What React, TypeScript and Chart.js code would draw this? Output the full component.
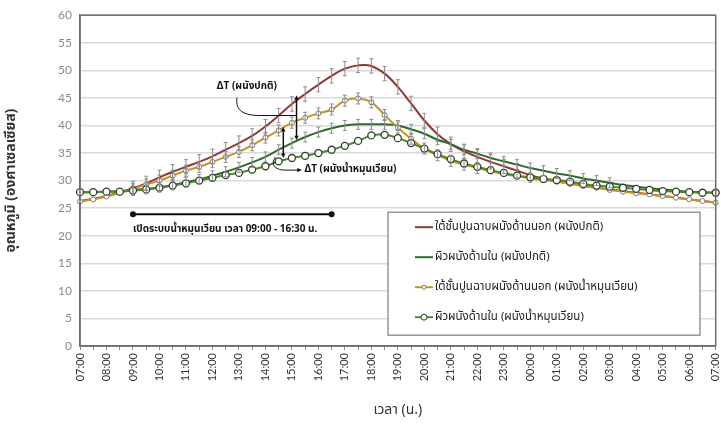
import React, { useEffect, useRef } from 'react';
import { Chart, registerables } from 'chart.js';
Chart.register(...registerables);

const TIME_LABELS = [
  '07:00','07:30','08:00','08:30','09:00','09:30','10:00','10:30','11:00','11:30',
  '12:00','12:30','13:00','13:30','14:00','14:30','15:00','15:30','16:00','16:30',
  '17:00','17:30','18:00','18:30','19:00','19:30','20:00','20:30','21:00','21:30',
  '22:00','22:30','23:00','23:30','00:00','00:30','01:00','01:30','02:00','02:30',
  '03:00','03:30','04:00','04:30','05:00','05:30','06:00','06:30','07:00',
];

const OUTER_NORMAL = [
  26.3, 26.7, 27.2, 27.9, 28.6, 29.5, 30.6, 31.6, 32.5, 33.4,
  34.4, 35.6, 36.8, 38.1, 39.8, 41.8, 43.9, 45.7, 47.4, 49.0,
  50.3, 50.9, 50.8, 49.4, 47.0, 44.0, 40.9, 38.4, 36.6, 35.3,
  34.3, 33.4, 32.6, 31.8, 31.0, 30.4, 29.9, 29.5, 29.1, 28.7,
  28.4, 28.1, 27.8, 27.5, 27.2, 26.9, 26.6, 26.3, 26.0,
];
const INNER_NORMAL = [
  27.9, 27.9, 28.0, 28.1, 28.3, 28.5, 28.8, 29.2, 29.7, 30.2,
  30.9, 31.6, 32.4, 33.3, 34.3, 35.6, 36.8, 37.9, 38.8, 39.5,
  40.0, 40.2, 40.2, 40.2, 40.0, 39.3, 38.5, 37.4, 36.6, 35.6,
  34.9, 34.1, 33.5, 32.9, 32.3, 31.8, 31.3, 30.9, 30.4, 30.0,
  29.6, 29.2, 28.9, 28.6, 28.4, 28.2, 28.0, 27.9, 27.8,
];
const OUTER_CIRC = [
  26.2, 26.6, 27.1, 27.8, 28.5, 29.3, 30.0, 30.9, 31.8, 32.5,
  33.4, 34.3, 35.2, 36.4, 37.8, 39.1, 40.5, 41.4, 42.2, 42.9,
  44.5, 44.9, 44.2, 41.9, 39.6, 37.6, 35.8, 34.6, 33.6, 32.9,
  32.3, 31.7, 31.2, 30.8, 30.4, 30.1, 29.8, 29.4, 29.0, 28.7,
  28.3, 28.0, 27.7, 27.5, 27.2, 26.9, 26.6, 26.3, 26.0,
];
const INNER_CIRC = [
  27.9, 27.9, 28.0, 28.0, 28.2, 28.4, 28.7, 29.1, 29.5, 30.0,
  30.5, 31.0, 31.4, 32.0, 32.6, 33.5, 34.1, 34.5, 35.0, 35.6,
  36.3, 37.2, 38.2, 38.3, 37.7, 36.8, 35.8, 34.8, 33.9, 33.1,
  32.5, 31.9, 31.4, 30.9, 30.6, 30.3, 30.1, 29.8, 29.4, 29.1,
  28.9, 28.7, 28.5, 28.3, 28.1, 28.0, 27.9, 27.8, 27.8,
];

const SERIES_LABELS = [
  'ใต้ชั้นปูนฉาบผนังด้านนอก (ผนังปกติ)',
  'ผิวผนังด้านใน (ผนังปกติ)',
  'ใต้ชั้นปูนฉาบผนังด้านนอก (ผนังน้ำหมุนเวียน)',
  'ผิวผนังด้านใน (ผนังน้ำหมุนเวียน)',
];
// error bar half-size per series and index range where bars are visible
const ERRORS = [1.3, 0.9, 1.0, 0];
const ERROR_FROM = [4, 4, 4, 0];
const ERROR_TO = [34, 40, 30, 0];

const Y_MIN = 0;
const Y_MAX = 60;
const Y_STEP = 5;
const Y_TITLE = 'อุณหภูมิ (องศาเซลเซียส)';
const X_TITLE = 'เวลา (น.)';

const CIRC_TEXT = 'เปิดระบบน้ำหมุนเวียน เวลา 09:00 - 16:30 น.';
const CIRC_START = 4; // 09:00 index
const CIRC_END = 19; // 16:30 index
const CIRC_LEVEL = 23.9;
const DT_NORMAL_TEXT = 'ΔT (ผนังปกติ)';
const DT_CIRC_TEXT = 'ΔT (ผนังน้ำหมุนเวียน)';

const THAI = "Tahoma, 'Noto Sans Thai', 'Noto Sans Thai UI', Loma, Garuda, 'Noto Sans', sans-serif";
const NUM = "Lato, 'Liberation Sans', sans-serif";

const COLORS = ['#933634', '#2f6a2f', '#c8961e', '#4e8a2c'];

function arrowHead(ctx: CanvasRenderingContext2D, x: number, y: number, ang: number, size = 5) {
  ctx.beginPath();
  ctx.moveTo(x, y);
  ctx.lineTo(x - size * Math.cos(ang - 0.45), y - size * Math.sin(ang - 0.45));
  ctx.lineTo(x - size * Math.cos(ang + 0.45), y - size * Math.sin(ang + 0.45));
  ctx.closePath();
  ctx.fill();
}

const framePlugin = {
  id: 'frame',
  afterDraw(chart: any) {
    const { ctx, chartArea: a } = chart;
    ctx.save();
    ctx.strokeStyle = '#6e6e6e';
    ctx.lineWidth = 1.5;
    ctx.strokeRect(a.left, a.top, a.right - a.left, a.bottom - a.top);
    ctx.restore();
  },
};

const errorBarPlugin = {
  id: 'errbars',
  afterDatasetsDraw(chart: any) {
    const { ctx } = chart;
    const ys = chart.scales.y;
    ctx.save();
    ctx.strokeStyle = '#8c8c8c';
    ctx.lineWidth = 1;
    chart.data.datasets.forEach((ds: any, di: number) => {
      const e = ERRORS[di];
      if (!e) return;
      const meta = chart.getDatasetMeta(di);
      meta.data.forEach((pt: any, i: number) => {
        if (i < ERROR_FROM[di] || i > ERROR_TO[di]) return;
        const v = ds.data[i];
        const yt = ys.getPixelForValue(v + e);
        const yb = ys.getPixelForValue(v - e);
        const x = pt.x;
        ctx.beginPath();
        ctx.moveTo(x, yt); ctx.lineTo(x, yb);
        ctx.moveTo(x - 2, yt); ctx.lineTo(x + 2, yt);
        ctx.moveTo(x - 2, yb); ctx.lineTo(x + 2, yb);
        ctx.stroke();
      });
    });
    ctx.restore();
  },
};

const annotationPlugin = {
  id: 'annot',
  afterDraw(chart: any) {
    const { ctx } = chart;
    const xs = chart.scales.x;
    const ys = chart.scales.y;
    const X = (v: number) => xs.getPixelForValue(v);
    const Y = (v: number) => ys.getPixelForValue(v);
    ctx.save();
    ctx.fillStyle = '#111';
    ctx.strokeStyle = '#111';

    // circulation period bar
    ctx.lineWidth = 2;
    ctx.beginPath();
    ctx.moveTo(X(CIRC_START), Y(CIRC_LEVEL));
    ctx.lineTo(X(CIRC_END), Y(CIRC_LEVEL));
    ctx.stroke();
    [CIRC_START, CIRC_END].forEach((i) => {
      ctx.beginPath();
      ctx.arc(X(i), Y(CIRC_LEVEL), 3, 0, Math.PI * 2);
      ctx.fill();
    });
    ctx.font = `bold 10px ${THAI}`;
    ctx.textBaseline = 'middle';
    ctx.textAlign = 'left';
    ctx.fillText(CIRC_TEXT, X(CIRC_START), Y(21.1));

    // ΔT normal wall
    ctx.lineWidth = 1.5;
    const ax1 = X(16.35);
    const t1 = Y(45.5), b1 = Y(37.3);
    ctx.beginPath(); ctx.moveTo(ax1, t1 + 4); ctx.lineTo(ax1, b1 - 4); ctx.stroke();
    arrowHead(ctx, ax1, t1, -Math.PI / 2);
    arrowHead(ctx, ax1, b1, Math.PI / 2);
    ctx.lineWidth = 1;
    ctx.beginPath();
    ctx.moveTo(X(11.85), Y(45.0));
    ctx.bezierCurveTo(X(11.7), Y(42.5), X(12.5), Y(41.8), X(13.6), Y(41.8));
    ctx.lineTo(ax1, Y(41.8));
    ctx.stroke();
    ctx.font = `bold 10px ${THAI}`;
    ctx.textAlign = 'center';
    ctx.fillText(DT_NORMAL_TEXT, X(12.6), Y(46.9));

    // ΔT circulating wall
    ctx.lineWidth = 1.5;
    const ax2 = X(15.35);
    const t2 = Y(39.7), b2 = Y(34.1);
    ctx.beginPath(); ctx.moveTo(ax2, t2 + 4); ctx.lineTo(ax2, b2 - 4); ctx.stroke();
    arrowHead(ctx, ax2, t2, -Math.PI / 2);
    arrowHead(ctx, ax2, b2, Math.PI / 2);
    ctx.lineWidth = 1;
    ctx.beginPath();
    ctx.moveTo(X(14.75), Y(34.3));
    ctx.bezierCurveTo(X(14.3), Y(32.6), X(14.9), Y(31.9), X(15.5), Y(31.9));
    ctx.lineTo(X(16.55), Y(31.9));
    ctx.stroke();
    arrowHead(ctx, X(16.75), Y(31.9), 0, 5);
    ctx.textAlign = 'left';
    ctx.fillText(DT_CIRC_TEXT, X(16.95), Y(31.9));

    // legend box
    const a = chart.chartArea;
    const lx = a.left + 308, ly = a.top + 197, lw = 312, lh = 123;
    ctx.fillStyle = '#ffffff';
    ctx.fillRect(lx, ly, lw, lh);
    ctx.strokeStyle = '#7f7f7f';
    ctx.lineWidth = 1.2;
    ctx.strokeRect(lx, ly, lw, lh);
    const rows = [15, 45, 75, 105];
    chart.data.datasets.forEach((ds: any, i: number) => {
      const yy = ly + rows[i];
      const x0 = lx + 27, x1 = lx + 45;
      ctx.strokeStyle = ds.borderColor;
      ctx.lineWidth = 2;
      ctx.beginPath(); ctx.moveTo(x0, yy); ctx.lineTo(x1, yy); ctx.stroke();
      if (ds.pointRadius > 0) {
        ctx.fillStyle = '#fff';
        ctx.strokeStyle = ds.pointBorderColor;
        ctx.lineWidth = 1;
        ctx.beginPath(); ctx.arc((x0 + x1) / 2, yy, ds.pointRadius - 0.5, 0, Math.PI * 2); ctx.fill(); ctx.stroke();
      }
      ctx.fillStyle = '#222';
      ctx.font = `11.5px ${THAI}`;
      ctx.textAlign = 'left';
      ctx.textBaseline = 'middle';
      ctx.fillText(ds.label, x1 + 2, yy);
    });
    ctx.restore();
  },
};

export default function App() {
  const ref = useRef<HTMLCanvasElement | null>(null);
  useEffect(() => {
    if (!ref.current) return;
    const chart = new Chart(ref.current, {
      type: 'line',
      data: {
        labels: TIME_LABELS,
        datasets: [
          {
            label: SERIES_LABELS[0], data: OUTER_NORMAL, borderColor: COLORS[0], backgroundColor: COLORS[0],
            borderWidth: 2, pointRadius: 0, tension: 0.4, order: 4,
          },
          {
            label: SERIES_LABELS[1], data: INNER_NORMAL, borderColor: COLORS[1], backgroundColor: COLORS[1],
            borderWidth: 2, pointRadius: 0, tension: 0.4, order: 3,
          },
          {
            label: SERIES_LABELS[2], data: OUTER_CIRC, borderColor: COLORS[2], backgroundColor: '#ffffff',
            borderWidth: 2, pointRadius: 2.5, pointBackgroundColor: '#ffffff', pointBorderColor: '#7a7a7a',
            pointBorderWidth: 1, tension: 0.4, order: 2,
          },
          {
            label: SERIES_LABELS[3], data: INNER_CIRC, borderColor: COLORS[3], backgroundColor: '#ffffff',
            borderWidth: 2, pointRadius: 3.5, pointBackgroundColor: '#ffffff', pointBorderColor: '#2f3f2a',
            pointBorderWidth: 1.3, tension: 0.4, order: 1,
          },
        ],
      },
      options: {
        animation: false,
        responsive: true,
        maintainAspectRatio: false,
        layout: { padding: { top: 15, right: 3, left: 0, bottom: 0 } },
        plugins: { legend: { display: false }, tooltip: { enabled: false } },
        scales: {
          x: {
            type: 'category',
            grid: { display: true, drawOnChartArea: false, drawTicks: true, tickLength: 4, color: '#8c8c8c' },
            border: { display: true, color: '#6e6e6e', width: 1.5 },
            ticks: {
              autoSkip: false, maxRotation: 90, minRotation: 90, padding: 3,
              color: '#333', font: { family: NUM, size: 11 },
              callback: (_v: any, i: number) => (i % 2 === 0 ? TIME_LABELS[i] : ''),
            },
            title: { display: true, text: X_TITLE, color: '#333', font: { family: THAI, size: 14 }, padding: { top: 10 } },
            afterFit: (s: any) => { s.height = 78; s.paddingRight = 0; s.paddingLeft = 0; },
          },
          y: {
            min: Y_MIN, max: Y_MAX,
            grid: { color: '#d9d9d9', lineWidth: 1.5, drawTicks: false },
            border: { display: true, color: '#6e6e6e', width: 1.5 },
            ticks: { stepSize: Y_STEP, color: '#8a8a8a', padding: 8, font: { family: NUM, size: 12 } },
            title: { display: true, text: Y_TITLE, color: '#333', font: { family: THAI, size: 14, weight: 'bold' }, padding: { bottom: 14 } },
            afterFit: (s: any) => { s.width = 80; },
          },
        },
      },
      plugins: [errorBarPlugin, annotationPlugin, framePlugin],
    } as any);
    return () => chart.destroy();
  }, []);
  return (
    <div style={{ position: 'fixed', left: 0, top: 0, width: 721, height: 424, background: '#fff' }}>
      <canvas ref={ref} />
    </div>
  );
}
